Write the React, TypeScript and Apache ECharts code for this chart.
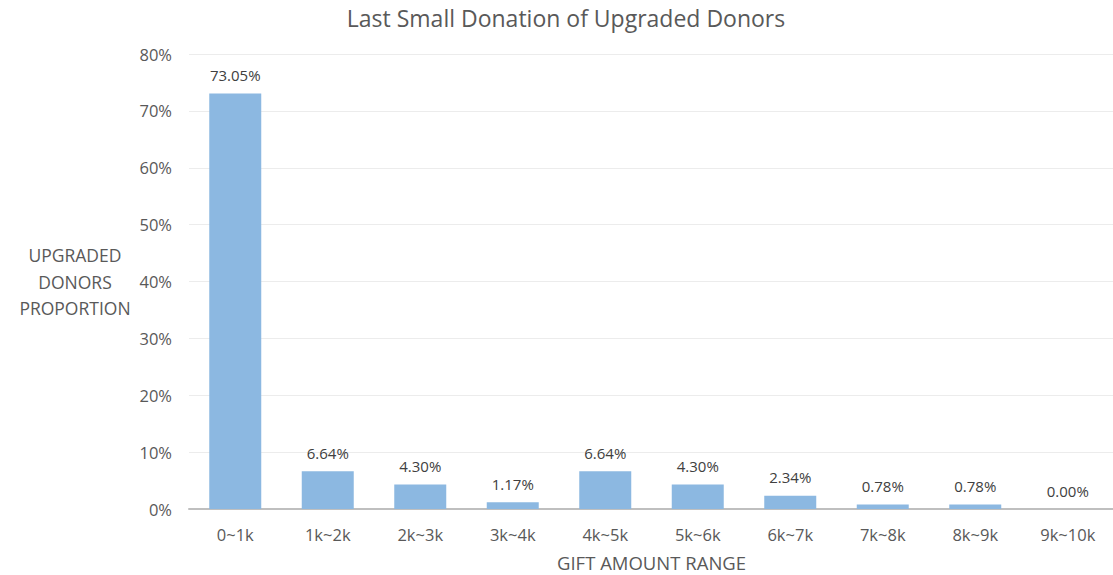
import React, { useEffect, useRef } from "react";
import * as echarts from "echarts";

const categories = ["0~1k", "1k~2k", "2k~3k", "3k~4k", "4k~5k", "5k~6k", "6k~7k", "7k~8k", "8k~9k", "9k~10k"];
const values = [73.05, 6.64, 4.3, 1.17, 6.64, 4.3, 2.34, 0.78, 0.78, 0.0];
const yTicks = [0, 10, 20, 30, 40, 50, 60, 70, 80];

const FONT = "'Open Sans', Lato, sans-serif";

export default function App() {
  const ref = useRef<HTMLDivElement>(null);
  useEffect(() => {
    if (!ref.current) return;
    const chart = echarts.init(ref.current, undefined, { renderer: "svg" });
    chart.setOption({
      animation: false,
      backgroundColor: "#ffffff",
      textStyle: { fontFamily: FONT },
      title: {
        text: "Last Small Donation of Upgraded Donors",
        left: 561,
        top: 1,
        textAlign: "center",
        textStyle: { fontFamily: FONT, fontSize: 23, fontWeight: "normal", color: "#595959" },
      },
      grid: { left: 189, top: 54, width: 925, height: 455, containLabel: false, outerBoundsMode: "none" },
      xAxis: {
        type: "category",
        data: categories,
        name: "GIFT AMOUNT RANGE",
        nameLocation: "middle",
        nameGap: 43,
        nameTextStyle: { fontFamily: FONT, fontSize: 18.5, color: "#595959", lineHeight: 20 },
        axisLine: { show: true, lineStyle: { color: "#bfbfbf", width: 2 } },
        axisTick: { show: false },
        axisLabel: { fontFamily: FONT, fontSize: 16.5, color: "#595959", margin: 17 },
      },
      yAxis: {
        type: "value",
        min: yTicks[0],
        max: yTicks[yTicks.length - 1],
        interval: 10,
        axisLine: { show: false },
        axisTick: { show: false },
        splitLine: { lineStyle: { color: "#ececec", width: 1 } },
        axisLabel: {
          fontFamily: FONT,
          fontSize: 16.5,
          color: "#595959",
          margin: 17,
          formatter: (v: number) => `${v}%`,
        },
      },
      graphic: [
        {
          type: "text",
          x: 75,
          y: 242,
          style: {
            text: "UPGRADED\nDONORS\nPROPORTION",
            font: `17.5px ${FONT}`,
            fill: "#595959",
            lineHeight: 26.5,
            textAlign: "center",
            textVerticalAlign: "top",
          },
        },
      ],
      series: [
        {
          type: "bar",
          data: values,
          barWidth: 52,
          itemStyle: { color: "#8cb8e1" },
          label: {
            show: true,
            position: "top",
            distance: 11,
            fontFamily: FONT,
            fontSize: 15,
            color: "#404040",
            formatter: (p: any) => `${p.value.toFixed(2)}%`,
          },
        },
      ],
    });
    return () => chart.dispose();
  }, []);
  return <div ref={ref} style={{ width: 1113, height: 575, position: "absolute", left: 0, top: 0 }} />;
}
